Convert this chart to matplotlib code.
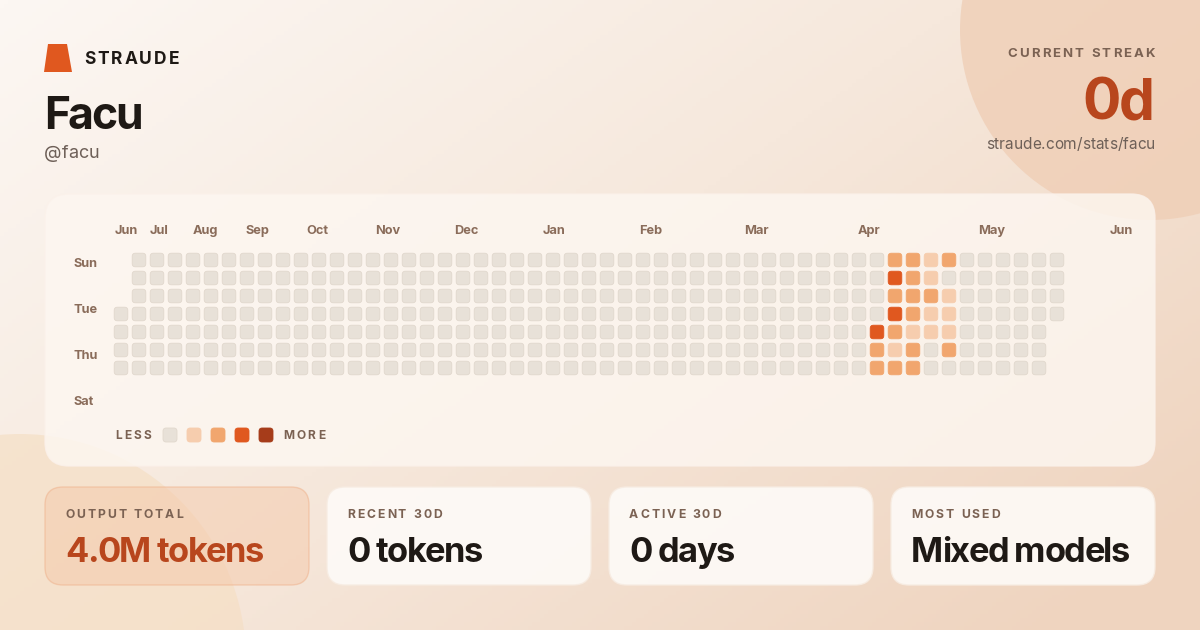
import matplotlib
matplotlib.use("Agg")
import matplotlib.pyplot as plt
import numpy as np
from matplotlib.patches import FancyBboxPatch, Circle, Polygon
from matplotlib.colors import LinearSegmentedColormap
from matplotlib.font_manager import FontProperties

# ---- data ----
user_name = "Facu"
user_handle = "@facu"
streak_label = "CURRENT STREAK"
streak_value = "0d"
profile_url = "straude.com/stats/facu"

month_labels = ["Jun", "Jul", "Aug", "Sep", "Oct", "Nov", "Dec", "Jan", "Feb", "Mar", "Apr", "May", "Jun"]
day_labels = ["Sun", "Tue", "Thu", "Sat"]

n_weeks = 53
first_day_row = 3   # first week starts on a Wednesday
last_day_row = 3    # last week ends on a Wednesday

# intensity level (0-4) per day, Sun..Sat, for the weeks with activity
active_weeks = [42, 43, 44, 45, 46]
active_levels = [
    [0, 0, 0, 0, 3, 2, 2],
    [2, 3, 2, 3, 2, 1, 2],
    [2, 2, 2, 2, 1, 2, 2],
    [1, 1, 2, 1, 1, 0, 0],
    [2, 0, 1, 1, 1, 2, 0],
]

card_titles = ["OUTPUT TOTAL", "RECENT 30D", "ACTIVE 30D", "MOST USED"]
card_values = ["4.0M tokens", "0 tokens", "0 days", "Mixed models"]

# ---- style ----
FONT = "Inter"
DARK = "#1E1915"
BROWN = "#7B6253"
MONTH = "#8A6C5A"
GREY = "#6E6058"
ACCENT = "#B8461D"
LEVEL_COLORS = ["#E8E1D8", "#F6CDAE", "#F1A66E", "#E0581F", "#A63C1A"]

W, H = 1200, 630
fig = plt.figure(figsize=(12, 6.3), dpi=100)
ax = fig.add_axes([0, 0, 1, 1])
ax.set_xlim(0, W)
ax.set_ylim(H, 0)
ax.axis("off")

# background gradient
xx, yy = np.meshgrid(np.linspace(0, 1, 300), np.linspace(0, 1, 160))
t = np.clip(0.62 * xx + 0.45 * yy, 0, 1)
bg = LinearSegmentedColormap.from_list("bg", ["#FCF7F3", "#F6E8DC", "#EFD4BF"])
ax.imshow(t, cmap=bg, extent=[0, W, H, 0], aspect="auto", zorder=0, vmin=0, vmax=1)

# decorative circles
ax.add_patch(Circle((1150, 30), 190, color="#EFCDB4", alpha=0.75, lw=0, zorder=1))
ax.add_patch(Circle((20, 660), 226, color="#F5DFC5", alpha=0.7, lw=0, zorder=1))

renderer = fig.canvas.get_renderer()


def spaced(x, y, s, size, track=0.0, color=DARK, ha="left", weight="bold", z=6):
    fp = FontProperties(family=FONT, weight=weight, size=size)
    ref = renderer.get_text_width_height_descent("I", fp, ismath=False)[0]
    adv = [0.0]
    for i in range(1, len(s) + 1):
        adv.append(renderer.get_text_width_height_descent(s[:i] + "I", fp, ismath=False)[0] - ref)
    total = adv[-1] + (len(s) - 1) * track
    x0 = x - total if ha == "right" else x
    for i, ch in enumerate(s):
        if ch == " ":
            continue
        ax.text(x0 + adv[i] + i * track, y, ch, fontproperties=fp, color=color,
                ha="left", va="baseline", zorder=z)


# ---- header ----
ax.add_patch(Polygon([(44, 72), (48, 44), (67, 44), (72, 72)], closed=True,
                     color="#E0581F", lw=0, zorder=5))
spaced(84, 64, "STRAUDE", 12.5, track=2.0, color=DARK)
spaced(44, 129, user_name, 32, track=-2.4, color=DARK)
spaced(44, 158, user_handle, 13, color=GREY, weight="normal")

spaced(1155, 57, streak_label, 9.5, track=2.1, color=BROWN, ha="right")
spaced(1155, 119, streak_value, 41, track=-1.8, color=ACCENT, ha="right")
spaced(1155, 149, profile_url, 11.1, color=GREY, ha="right", weight="normal")

# ---- heatmap panel ----
ax.add_patch(FancyBboxPatch((45, 194), 1110, 272, boxstyle="round,pad=0,rounding_size=24",
                            fc="#FDF7F1", ec="#FBF1EA", lw=1.0, alpha=0.82, zorder=2))

month_label_x = [126, 159, 205, 257, 317, 388, 466, 554, 651, 756, 869, 992, 1121]
for lab, mx in zip(month_labels, month_label_x):
    ax.text(mx, 234, lab, family=FONT, weight="bold", fontsize=9.2, color=MONTH,
            ha="center", va="baseline", zorder=6)
for i, lab in enumerate(day_labels):
    ax.text(73, 267 + 46 * i, lab, family=FONT, weight="bold", fontsize=9.2, color=MONTH,
            ha="left", va="baseline", zorder=6)

levels = np.full((n_weeks, 7), np.nan)
for k in range(n_weeks):
    for r in range(7):
        if k == 0 and r < first_day_row:
            continue
        if k == n_weeks - 1 and r > last_day_row:
            continue
        levels[k, r] = 0
for k, lv in zip(active_weeks, active_levels):
    levels[k, :] = lv

gx0, gy0, pitch, cs = 121, 260, 18, 13.6
for k in range(n_weeks):
    for r in range(7):
        if np.isnan(levels[k, r]):
            continue
        c = LEVEL_COLORS[int(levels[k, r])]
        ec = "#E1D8CD" if levels[k, r] == 0 else c
        ax.add_patch(FancyBboxPatch((gx0 + k * pitch - cs / 2, gy0 + r * pitch - cs / 2), cs, cs,
                                    boxstyle="round,pad=0,rounding_size=3.2",
                                    fc=c, ec=ec, lw=0.6, zorder=4))

# legend
spaced(115, 439, "LESS", 8.6, track=2.3, color=BROWN)
for i, c in enumerate(LEVEL_COLORS):
    ec = "#E1D8CD" if i == 0 else c
    ax.add_patch(FancyBboxPatch((170 + 24 * i - 7, 428), 14, 14,
                                boxstyle="round,pad=0,rounding_size=3.2",
                                fc=c, ec=ec, lw=0.6, zorder=4))
spaced(283, 439, "MORE", 8.6, track=2.3, color=BROWN)

# ---- stat cards ----
card_x = [45, 327, 609, 891]
for i, (title, val, cx) in enumerate(zip(card_titles, card_values, card_x)):
    if i == 0:
        fc, ec, alpha, vc = "#F4C9AA", "#EFB08A", 0.5, ACCENT
    else:
        fc, ec, alpha, vc = "#FEFBF8", "#F7ECE2", 0.9, DARK
    ax.add_patch(FancyBboxPatch((cx, 487), 264, 98, boxstyle="round,pad=0,rounding_size=18",
                                fc=fc, ec=ec, lw=1.0, alpha=alpha, zorder=3))
    spaced(cx + 20, 518, title, 8.8, track=2.0, color=BROWN)
    spaced(cx + 20, 562, val, 24.8, track=-1.4, color=vc)

fig.savefig("out.png", dpi=100)
